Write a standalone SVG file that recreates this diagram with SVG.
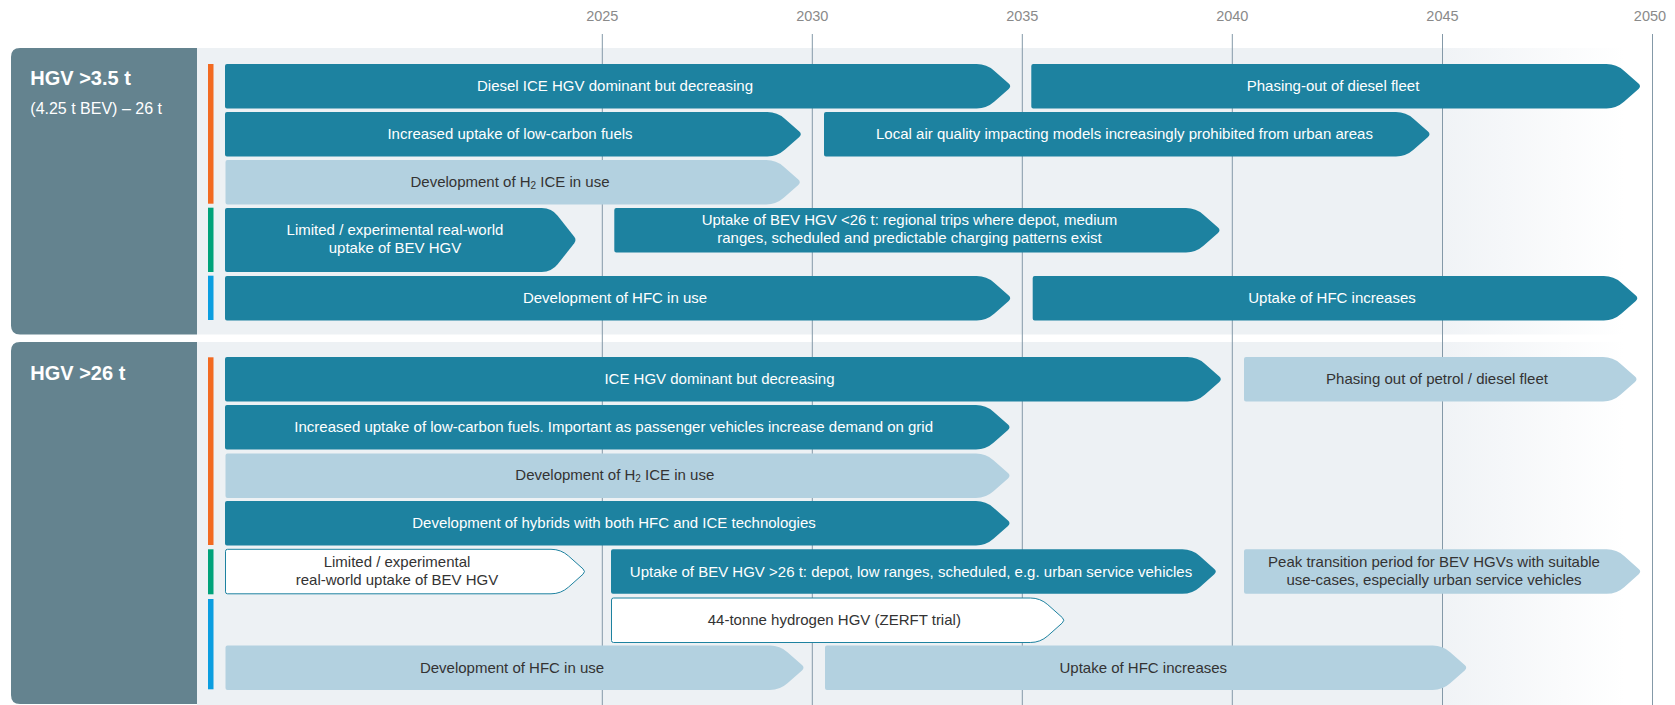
<svg xmlns="http://www.w3.org/2000/svg" width="1675" height="705" viewBox="0 0 1675 705">
  <defs>
    <!-- timeline panel background: flat grey that fades out after 2045 -->
    <linearGradient id="panelFade" gradientUnits="userSpaceOnUse" x1="197" y1="0" x2="1675" y2="0">
      <stop offset="0" stop-color="#edf1f4"/>
      <stop offset="0.8424" stop-color="#edf1f4"/>
      <stop offset="0.8431" stop-color="#f0f3f6"/>
      <stop offset="0.966" stop-color="#ffffff"/>
      <stop offset="1" stop-color="#ffffff"/>
    </linearGradient>
    <style>
      .panel-bg { fill: url(#panelFade); }
      .panel-head { fill: #64838f; }
      .head-title { font-family: "Liberation Sans", Arial, Helvetica, sans-serif; font-size: 20px; font-weight: bold; fill: #ffffff; }
      .head-sub { font-family: "Liberation Sans", Arial, Helvetica, sans-serif; font-size: 16px; fill: #ffffff; }
      .year { font-family: "Liberation Sans", Arial, Helvetica, sans-serif; font-size: 14.5px; fill: #8a8a8a; text-anchor: middle; }
      .grid { stroke: #8499a8; stroke-width: 1; fill: none; }
      .bar-dark { fill: #1d82a0; }
      .bar-light { fill: #b3d1e0; }
      .bar-outline { fill: #ffffff; stroke: #1d82a0; stroke-width: 1; }
      .lbl { font-family: "Liberation Sans", Arial, Helvetica, sans-serif; font-size: 15px; text-anchor: middle; }
      .on-dark { fill: #ffffff; }
      .on-light { fill: #333333; }
      .sub { font-size: 10px; }
      .tag-fossil { fill: #f26a21; }
      .tag-bev { fill: #00a27a; }
      .tag-hfc { fill: #0b9ee0; }
    </style>
  </defs>

  <!-- panel backgrounds -->
  <g id="backgrounds">
    <rect class="panel-bg" x="197" y="48" width="1478" height="286.5"/>
    <rect class="panel-bg" x="197" y="342" width="1478" height="363"/>
  </g>

  <!-- year axis -->
  <g id="year-axis">
    <line class="grid" x1="602.3" y1="34" x2="602.3" y2="705"/>
    <line class="grid" x1="812.3" y1="34" x2="812.3" y2="705"/>
    <line class="grid" x1="1022.3" y1="34" x2="1022.3" y2="705"/>
    <line class="grid" x1="1232.3" y1="34" x2="1232.3" y2="705"/>
    <line class="grid" x1="1442.5" y1="34" x2="1442.5" y2="705"/>
    <line class="grid" x1="1652.5" y1="34" x2="1652.5" y2="705"/>
    <text class="year" x="602.3" y="20.7">2025</text>
    <text class="year" x="812.3" y="20.7">2030</text>
    <text class="year" x="1022.3" y="20.7">2035</text>
    <text class="year" x="1232.3" y="20.7">2040</text>
    <text class="year" x="1442.5" y="20.7">2045</text>
    <text class="year" x="1650" y="20.7">2050</text>
  </g>

  <!-- ===== HGV >3.5 t ===== -->
  <g id="hgv-3-5t">
    <g id="hgv-3-5t-header">
      <path class="panel-head" d="M197,48 H20 Q11,48 11,57 V325.5 Q11,334.5 20,334.5 H197 Z"/>
      <text class="head-title" x="30.3" y="85">HGV &gt;3.5 t</text>
      <text class="head-sub" x="30.3" y="114">(4.25 t BEV) – 26 t</text>
    </g>
    <g id="hgv-3-5t-tags">
      <rect class="tag-fossil" x="208" y="64" width="5.5" height="139.7"/>
      <rect class="tag-bev" x="208" y="207.7" width="5.5" height="64.3"/>
      <rect class="tag-hfc" x="208" y="275.7" width="5.5" height="44.3"/>
    </g>

    <g id="m-diesel-dominant">
      <path class="bar-dark" d="M225,66 q0,-2 2,-2 H976.7 q10,0 17.47,6.65 l14.54,12.94 q2.99,2.66 0,5.32 l-14.54,12.94 q-7.47,6.65 -17.47,6.65 H227 q-2,0 -2,-2 z"/>
      <text class="lbl on-dark" x="615" y="91.3">Diesel ICE HGV dominant but decreasing</text>
    </g>
    <g id="m-diesel-phaseout">
      <path class="bar-dark" d="M1031.3,66 q0,-2 2,-2 H1606.5 q10,0 17.47,6.65 l14.54,12.94 q2.99,2.66 0,5.32 l-14.54,12.94 q-7.47,6.65 -17.47,6.65 H1033.3 q-2,0 -2,-2 z"/>
      <text class="lbl on-dark" x="1333" y="91.3">Phasing-out of diesel fleet</text>
    </g>
    <g id="m-lowcarbon-fuels">
      <path class="bar-dark" d="M225,114 q0,-2 2,-2 H767.3 q10,0 17.47,6.65 l14.54,12.94 q2.99,2.66 0,5.32 l-14.54,12.94 q-7.47,6.65 -17.47,6.65 H227 q-2,0 -2,-2 z"/>
      <text class="lbl on-dark" x="510" y="139.3">Increased uptake of low-carbon fuels</text>
    </g>
    <g id="m-air-quality">
      <path class="bar-dark" d="M824,114 q0,-2 2,-2 H1396 q10,0 17.47,6.65 l14.54,12.94 q2.99,2.66 0,5.32 l-14.54,12.94 q-7.47,6.65 -17.47,6.65 H826 q-2,0 -2,-2 z"/>
      <text class="lbl on-dark" x="1124.5" y="139.3">Local air quality impacting models increasingly prohibited from urban areas</text>
    </g>
    <g id="m-h2-ice">
      <path class="bar-light" d="M225.5,162 q0,-2 2,-2 H766.3 q10,0 17.47,6.65 l14.54,12.94 q2.99,2.66 0,5.32 l-14.54,12.94 q-7.47,6.65 -17.47,6.65 H227.5 q-2,0 -2,-2 z"/>
      <text class="lbl on-light" x="510" y="187.3">Development of H<tspan class="sub" dy="1.5">2</tspan><tspan dy="-1.5"> ICE in use</tspan></text>
    </g>
    <g id="m-bev-limited">
      <path class="bar-dark" d="M225,210 q0,-2 2,-2 H541.7 q10,0 16.16,7.88 l16.38,20.97 q2.46,3.15 0,6.3 l-16.38,20.97 q-6.16,7.88 -16.16,7.88 H227 q-2,0 -2,-2 z"/>
      <text class="lbl on-dark" x="395" y="235">Limited / experimental real-world</text>
      <text class="lbl on-dark" x="395" y="253">uptake of BEV HGV</text>
    </g>
    <g id="m-bev-regional">
      <path class="bar-dark" d="M614.3,210 q0,-2 2,-2 H1186 q10,0 17.47,6.65 l14.54,12.94 q2.99,2.66 0,5.32 l-14.54,12.94 q-7.47,6.65 -17.47,6.65 H616.3 q-2,0 -2,-2 z"/>
      <text class="lbl on-dark" x="909.5" y="225.3">Uptake of BEV HGV &lt;26 t: regional trips where depot, medium</text>
      <text class="lbl on-dark" x="909.5" y="243.3">ranges, scheduled and predictable charging patterns exist</text>
    </g>
    <g id="m-hfc-dev">
      <path class="bar-dark" d="M225,278 q0,-2 2,-2 H976.7 q10,0 17.47,6.65 l14.54,12.94 q2.99,2.66 0,5.32 l-14.54,12.94 q-7.47,6.65 -17.47,6.65 H227 q-2,0 -2,-2 z"/>
      <text class="lbl on-dark" x="615" y="303.3">Development of HFC in use</text>
    </g>
    <g id="m-hfc-uptake">
      <path class="bar-dark" d="M1032.7,278 q0,-2 2,-2 H1603.8 q10,0 17.47,6.65 l14.54,12.94 q2.99,2.66 0,5.32 l-14.54,12.94 q-7.47,6.65 -17.47,6.65 H1034.7 q-2,0 -2,-2 z"/>
      <text class="lbl on-dark" x="1332" y="303.3">Uptake of HFC increases</text>
    </g>
  </g>

  <!-- ===== HGV >26 t ===== -->
  <g id="hgv-26t">
    <g id="hgv-26t-header">
      <path class="panel-head" d="M197,342 H20 Q11,342 11,351 V695 Q11,704 20,704 H197 Z"/>
      <text class="head-title" x="30.3" y="380">HGV &gt;26 t</text>
    </g>
    <g id="hgv-26t-tags">
      <rect class="tag-fossil" x="208" y="357.3" width="5.5" height="187.7"/>
      <rect class="tag-bev" x="208" y="549.3" width="5.5" height="45"/>
      <rect class="tag-hfc" x="208" y="599" width="5.5" height="90.3"/>
    </g>

    <g id="h-ice-dominant">
      <path class="bar-dark" d="M225,359 q0,-2 2,-2 H1187.3 q10,0 17.47,6.65 l14.54,12.94 q2.99,2.66 0,5.32 l-14.54,12.94 q-7.47,6.65 -17.47,6.65 H227 q-2,0 -2,-2 z"/>
      <text class="lbl on-dark" x="719.5" y="384.3">ICE HGV dominant but decreasing</text>
    </g>
    <g id="h-phaseout">
      <path class="bar-light" d="M1244,359 q0,-2 2,-2 H1603 q10,0 17.47,6.65 l14.54,12.94 q2.99,2.66 0,5.32 l-14.54,12.94 q-7.47,6.65 -17.47,6.65 H1246 q-2,0 -2,-2 z"/>
      <text class="lbl on-light" x="1437" y="384.3">Phasing out of petrol / diesel fleet</text>
    </g>
    <g id="h-lowcarbon-fuels">
      <path class="bar-dark" d="M225,407 q0,-2 2,-2 H976 q10,0 17.47,6.65 l14.54,12.94 q2.99,2.66 0,5.32 l-14.54,12.94 q-7.47,6.65 -17.47,6.65 H227 q-2,0 -2,-2 z"/>
      <text class="lbl on-dark" x="613.7" y="432.3">Increased uptake of low-carbon fuels. Important as passenger vehicles increase demand on grid</text>
    </g>
    <g id="h-h2-ice">
      <path class="bar-light" d="M225.5,455.5 q0,-2 2,-2 H976 q10,0 17.47,6.65 l14.54,12.94 q2.99,2.66 0,5.32 l-14.54,12.94 q-7.47,6.65 -17.47,6.65 H227.5 q-2,0 -2,-2 z"/>
      <text class="lbl on-light" x="614.8" y="480.3">Development of H<tspan class="sub" dy="1.5">2</tspan><tspan dy="-1.5"> ICE in use</tspan></text>
    </g>
    <g id="h-hybrids">
      <path class="bar-dark" d="M225,503 q0,-2 2,-2 H976 q10,0 17.47,6.65 l14.54,12.94 q2.99,2.66 0,5.32 l-14.54,12.94 q-7.47,6.65 -17.47,6.65 H227 q-2,0 -2,-2 z"/>
      <text class="lbl on-dark" x="614" y="528">Development of hybrids with both HFC and ICE technologies</text>
    </g>
    <g id="h-bev-limited">
      <path class="bar-outline" d="M225.5,551.3 q0,-2 2,-2 H551 q10,0 17.47,6.65 l14.54,12.94 q2.99,2.66 0,5.32 l-14.54,12.94 q-7.47,6.65 -17.47,6.65 H227.5 q-2,0 -2,-2 z"/>
      <text class="lbl on-light" x="397" y="566.5">Limited / experimental</text>
      <text class="lbl on-light" x="397" y="584.5">real-world uptake of BEV HGV</text>
    </g>
    <g id="h-bev-depot">
      <path class="bar-dark" d="M611,551.3 q0,-2 2,-2 H1182.3 q10,0 17.47,6.65 l14.54,12.94 q2.99,2.66 0,5.32 l-14.54,12.94 q-7.47,6.65 -17.47,6.65 H613 q-2,0 -2,-2 z"/>
      <text class="lbl on-dark" x="911" y="576.5">Uptake of BEV HGV &gt;26 t: depot, low ranges, scheduled, e.g. urban service vehicles</text>
    </g>
    <g id="h-bev-peak">
      <path class="bar-light" d="M1244,551.3 q0,-2 2,-2 H1606.7 q10,0 17.47,6.65 l14.54,12.94 q2.99,2.66 0,5.32 l-14.54,12.94 q-7.47,6.65 -17.47,6.65 H1246 q-2,0 -2,-2 z"/>
      <text class="lbl on-light" x="1434" y="566.7">Peak transition period for BEV HGVs with suitable</text>
      <text class="lbl on-light" x="1434" y="584.7">use-cases, especially urban service vehicles</text>
    </g>
    <g id="h-zerft">
      <path class="bar-outline" d="M611.5,600 q0,-2 2,-2 H1030.3 q10,0 17.47,6.65 l14.54,12.94 q2.99,2.66 0,5.32 l-14.54,12.94 q-7.47,6.65 -17.47,6.65 H613.5 q-2,0 -2,-2 z"/>
      <text class="lbl on-light" x="834.3" y="624.8">44-tonne hydrogen HGV (ZERFT trial)</text>
    </g>
    <g id="h-hfc-dev">
      <path class="bar-light" d="M225.5,647.5 q0,-2 2,-2 H770 q10,0 17.47,6.65 l14.54,12.94 q2.99,2.66 0,5.32 l-14.54,12.94 q-7.47,6.65 -17.47,6.65 H227.5 q-2,0 -2,-2 z"/>
      <text class="lbl on-light" x="512" y="672.5">Development of HFC in use</text>
    </g>
    <g id="h-hfc-uptake">
      <path class="bar-light" d="M825,647.5 q0,-2 2,-2 H1432.7 q10,0 17.47,6.65 l14.54,12.94 q2.99,2.66 0,5.32 l-14.54,12.94 q-7.47,6.65 -17.47,6.65 H827 q-2,0 -2,-2 z"/>
      <text class="lbl on-light" x="1143.3" y="672.5">Uptake of HFC increases</text>
    </g>
  </g>
</svg>
